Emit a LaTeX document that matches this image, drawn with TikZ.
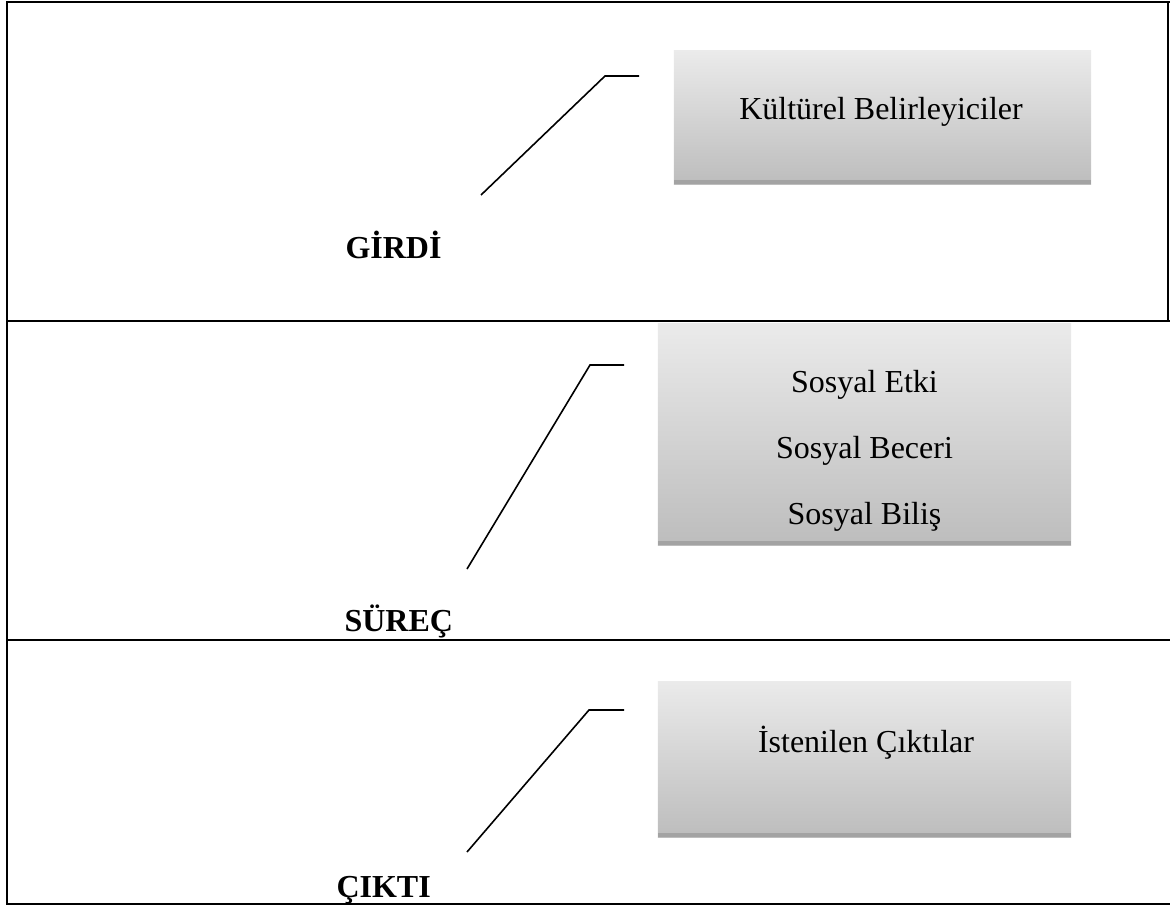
\documentclass[tikz,border=0pt]{standalone}
\usepackage{fontspec}
\setmainfont{Liberation Serif}

\begin{document}
\begin{tikzpicture}[x=0.375pt, y=-0.375pt]
        % Define styles
        \tikzset{
            frame/.style={line width=1pt},
            leader/.style={line width=0.6pt},
            shadebox/.style={rectangle, inner sep=0pt, top color=black!8, bottom color=black!26,
                path picture={\fill[black!36] ([yshift=1.6pt]path picture bounding box.south west) rectangle (path picture bounding box.south east);}},
            boxtext/.style={font=\fontsize{12}{24.7}\selectfont, align=center},
            level/.style={font=\fontsize{12}{14.4}\selectfont\bfseries, anchor=base west, inner sep=0pt}
        }
        \useasboundingbox (0,0) rectangle (1170,906);

        % Frame
        \draw[frame] (1170,2) -- (7,2) -- (7,904) -- (1170,904);
        \draw[frame] (1168,2) -- (1168,321);
        \draw[frame] (7,321) -- (1170,321);
        \draw[frame] (7,640) -- (1170,640);

        % Nodes
        \node[shadebox, minimum width=156.4pt, minimum height=49.9pt] (kultur_box) at (882.5,117.5) {};
        \node[boxtext] (kultur_text) at (881,112) {Kültürel Belirleyiciler};
        \node[shadebox, minimum width=154.9pt, minimum height=82.9pt] (surec_box) at (864.5,434.5) {};
        \node[boxtext] (surec_text) at (864.5,451) {Sosyal Etki\\Sosyal Beceri\\Sosyal Biliş};
        \node[shadebox, minimum width=154.9pt, minimum height=58.5pt] (cikti_box) at (864.5,759) {};
        \node[boxtext] (cikti_text) at (866,743) {İstenilen Çıktılar};

        \node[level] (girdi) at (345,258) {GİRDİ};
        \node[level] (surec) at (344,631) {SÜREÇ};
        \node[level] (cikti) at (336,897) {ÇIKTI};

        % Leaders
        \coordinate (girdi_start) at (481,195);
        \coordinate (girdi_bend) at (605,76);
        \coordinate (girdi_end) at (639,76);
        \coordinate (surec_start) at (467,569);
        \coordinate (surec_bend) at (590,365);
        \coordinate (surec_end) at (624,365);
        \coordinate (cikti_start) at (467,852);
        \coordinate (cikti_bend) at (589,710);
        \coordinate (cikti_end) at (624,710);
        \draw[leader] (girdi_start) -- (girdi_bend) -- (girdi_end);
        \draw[leader] (surec_start) -- (surec_bend) -- (surec_end);
        \draw[leader] (cikti_start) -- (cikti_bend) -- (cikti_end);
\end{tikzpicture}
\end{document}
